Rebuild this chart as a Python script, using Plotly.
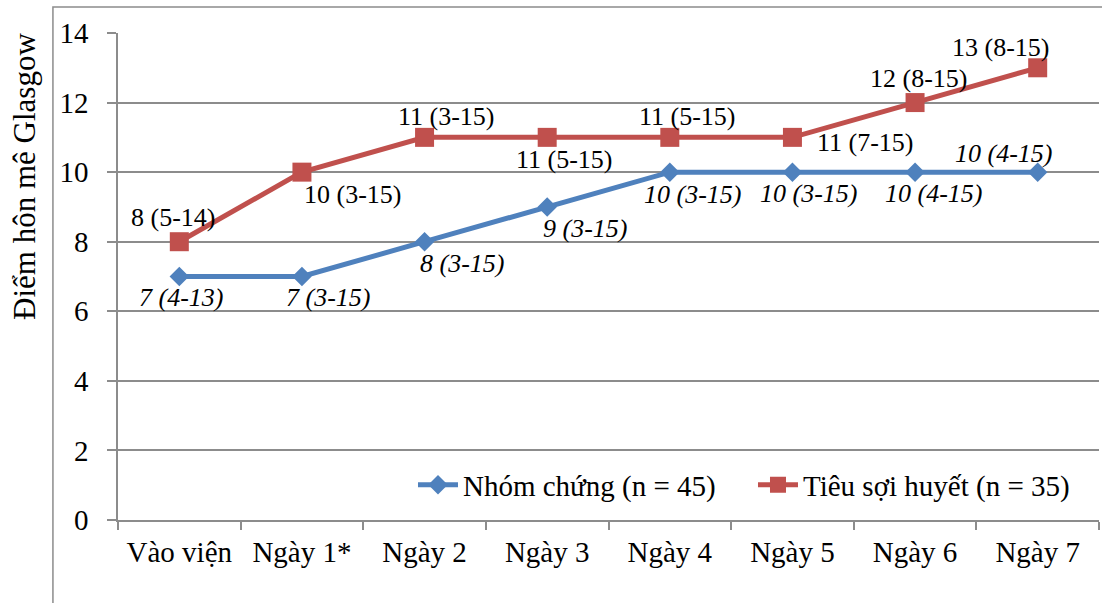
import plotly.graph_objects as go

categories = ["Vào viện", "Ngày 1*", "Ngày 2", "Ngày 3", "Ngày 4", "Ngày 5", "Ngày 6", "Ngày 7"]
control_name = "Nhóm chứng (n = 45)"
control_values = [7, 7, 8, 9, 10, 10, 10, 10]
control_labels = ["7 (4-13)", "7 (3-15)", "8 (3-15)", "9 (3-15)", "10 (3-15)", "10 (3-15)", "10 (4-15)", "10 (4-15)"]
tsh_name = "Tiêu sợi huyết (n = 35)"
tsh_values = [8, 10, 11, 11, 11, 11, 12, 13]
tsh_labels = ["8 (5-14)", "10 (3-15)", "11 (3-15)", "11 (5-15)", "11 (5-15)", "11 (7-15)", "12 (8-15)", "13 (8-15)"]
y_ticks = [0, 2, 4, 6, 8, 10, 12, 14]
y_title = "Điểm hôn mê Glasgow"

# label pixel offsets (style)
control_shift = [(2, -21), (26, -21), (37, -22), (38, -22), (23, -22), (16, -21), (18, -21), (-34, 19)]
tsh_shift = [(-6, 24), (51, -22), (22, 21), (17, -22), (18, 21), (73, -5), (3, 24), (-37, 20)]

FONT = "Liberation Serif"
BLUE = "#4F81BD"
RED = "#C0504D"
GRID = "#8C8C8C"

fig = go.Figure()
fig.add_trace(go.Scatter(
    x=categories, y=control_values, name=control_name, mode="lines+markers",
    line=dict(color=BLUE, width=5),
    marker=dict(symbol="diamond", size=15, color=BLUE),
))
fig.add_trace(go.Scatter(
    x=categories, y=tsh_values, name=tsh_name, mode="lines+markers",
    line=dict(color=RED, width=5),
    marker=dict(symbol="square", size=19, color=RED),
))

for c, v, t, (dx, dy) in zip(categories, control_values, control_labels, control_shift):
    fig.add_annotation(x=c, y=v, text=t, showarrow=False, xshift=dx, yshift=dy,
                       font=dict(family=FONT, size=26, color="black", style="italic"))
for c, v, t, (dx, dy) in zip(categories, tsh_values, tsh_labels, tsh_shift):
    fig.add_annotation(x=c, y=v, text=t, showarrow=False, xshift=dx, yshift=dy,
                       font=dict(family=FONT, size=26, color="black"))

# y-axis title
fig.add_annotation(xref="paper", yref="paper", x=(25 - 118) / 980, y=(520 - 176) / 487,
                   text=y_title, textangle=-90, showarrow=False,
                   xanchor="center", yanchor="middle",
                   font=dict(family=FONT, size=31, color="black"))

# outer chart frame
fig.add_shape(type="rect", xref="paper", yref="paper",
              x0=(53 - 118) / 980, x1=(1120 - 118) / 980,
              y0=-0.3, y1=(520 - 7) / 487,
              line=dict(color="#8C8C8C", width=1.5), fillcolor="rgba(0,0,0,0)", layer="below")

fig.update_layout(
    width=1102, height=603,
    margin=dict(l=118, r=3, t=33, b=83),
    paper_bgcolor="white", plot_bgcolor="white",
    font=dict(family=FONT, size=29, color="black"),
    showlegend=True,
    legend=dict(orientation="h", x=(1092 - 118) / 980, xanchor="right",
                y=(520 - 485) / 487, yanchor="middle",
                bgcolor="rgba(255,255,255,0)", font=dict(family=FONT, size=29),
                itemwidth=40, entrywidth=285),
    xaxis=dict(
        type="category", tickson="boundaries", ticks="outside", ticklen=8,
        tickcolor=GRID, tickwidth=1.5, showline=True, linecolor=GRID, linewidth=1.5,
        showgrid=False, tickfont=dict(family=FONT, size=29), range=[-0.5, 7.5],
        ticklabelstandoff=5, tickangle=0,
    ),
    yaxis=dict(
        range=[0, 14], tickvals=y_ticks, ticks="outside", ticklen=9, tickcolor=GRID,
        tickwidth=1.5, showline=True, linecolor=GRID, linewidth=1.5,
        showgrid=True, gridcolor=GRID, gridwidth=1.5, zeroline=False,
        tickfont=dict(family=FONT, size=29), ticklabelstandoff=13,
    ),
)

fig.write_html("out.html", config={"displayModeBar": False},
               post_script="document.body.style.margin='0px';")
